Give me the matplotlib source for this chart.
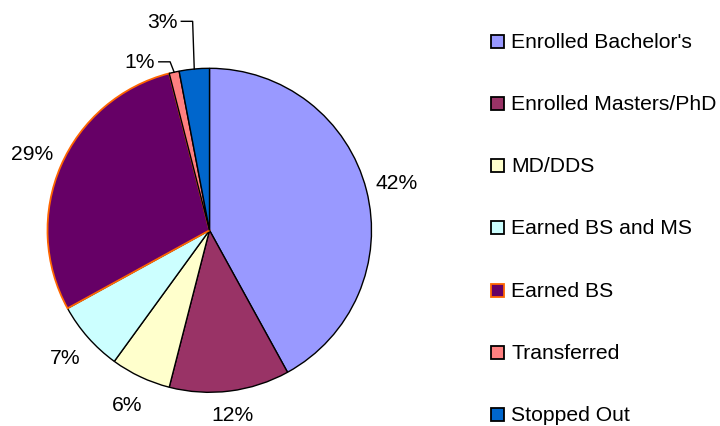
import numpy as np
import matplotlib.pyplot as plt
from matplotlib.patches import Rectangle

plt.rcParams['font.family'] = ['Liberation Sans', 'DejaVu Sans']

# Data
categories = ["Enrolled Bachelor's", "Enrolled Masters/PhD", "MD/DDS",
              "Earned BS and MS", "Earned BS", "Transferred", "Stopped Out"]
shares = [42, 12, 6, 7, 29, 1, 3]
colors = ['#9999FF', '#993366', '#FFFFCC', '#CCFFFF', '#660066', '#FF8080', '#0066CC']
edges = ['black', 'black', 'black', 'black', '#FF6600', 'black', 'black']

W, H = 720, 427
R = 162                      # pie radius in px
cx, cy = 209.5, H - 231.3    # pie centre in px (from bottom-left)
L = 1.4
FS = 15.2

fig = plt.figure(figsize=(W / 100, H / 100), dpi=100)
ax = fig.add_axes([(cx - L * R) / W, (cy - L * R) / H, 2 * L * R / W, 2 * L * R / H])


def pct_label(p):
    return f'{p:.0f}%' if p >= 5 else ''


wedges, texts, autotexts = ax.pie(
    shares, colors=colors, startangle=90, counterclock=False,
    autopct=pct_label, pctdistance=1.19,
    wedgeprops=dict(edgecolor='black', linewidth=1.0),
    textprops=dict(fontsize=FS, color='black'))

# bottom label sits a little closer to the pie so it stays inside the figure
x, y = autotexts[1].get_position()
autotexts[1].set_position((x * 1.145 / 1.19, y * 1.145 / 1.19))

for w, ec in zip(wedges, edges):
    w.set_edgecolor(ec)
    if ec != 'black':
        w.set_linewidth(1.3)

# small slices get a label with an elbow leader line
leader = {5: (1.04, -0.025), 6: (1.29, -0.01)}   # index: (text height, elbow shift)
for i, (ty, dx) in leader.items():
    w = wedges[i]
    mid = np.deg2rad((w.theta1 + w.theta2) / 2)
    axp, ayp = np.cos(mid), np.sin(mid)
    ex = axp + dx
    ax.plot([ex - 0.07, ex, axp], [ty, ty, ayp], color='black', lw=1.0)
    ax.text(ex - 0.095, ty, f'{shares[i]}%', ha='right', va='center', fontsize=FS)

ax.set_xlim(-L, L)
ax.set_ylim(-L, L)
ax.set_aspect('equal')
ax.axis('off')

# Legend
row0, step = 42, 62.3
for i, (name, c, ec) in enumerate(zip(categories, colors, edges)):
    y = row0 + i * step
    fig.add_artist(Rectangle((491 / W, 1 - (y + 6.5) / H), 13 / W, 13 / H,
                             transform=fig.transFigure, facecolor=c,
                             edgecolor=ec, linewidth=1.3))
    fig.text(511 / W, 1 - y / H, name, ha='left', va='center', fontsize=FS)

fig.savefig('out.png', dpi=100)
